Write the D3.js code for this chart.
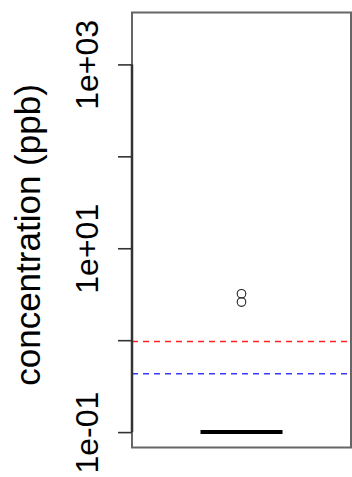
<!DOCTYPE html>
<html>
<head>
<meta charset="utf-8">
<script src="https://cdn.jsdelivr.net/npm/d3@7"></script>
<style>
  html, body { margin: 0; padding: 0; background: #fff; }
  svg { display: block; }
  text { font-family: "Liberation Sans", Arial, sans-serif; fill: #000; }
</style>
</head>
<body>
<svg id="chart" width="352" height="477"></svg>
<script>
// Box summary for the single group (all values at the reporting limit)
const groups = ["conc"];
const whiskerLow = [0.1];
const quartile1 = [0.1];
const medians = [0.1];
const quartile3 = [0.1];
const whiskerHigh = [0.1];
const outliers = [[3.2, 2.6]];

// Reference levels
const refValues = [0.97, 0.43];
const refColors = ["#ff2020", "#3a3aff"];

// Axis
const tickValues = [0.1, 1, 10, 100, 1000];
const tickLabels = ["1e-01", "", "1e+01", "", "1e+03"];
const yTitle = "concentration (ppb)";
const yDomain = [0.068, 3670];

const svg = d3.select("#chart");
const plot = { left: 132, right: 351, top: 12.5, bottom: 447.5 };

const y = d3.scaleLog().domain(yDomain).range([plot.bottom, plot.top]);
const x = d3.scaleBand().domain(groups).range([plot.left, plot.right]).paddingInner(0).paddingOuter(0);
const boxW = 82;

// Reference lines
svg.append("g").selectAll("line").data(refValues).join("line")
  .attr("x1", plot.left).attr("x2", plot.right)
  .attr("y1", d => y(d)).attr("y2", d => y(d))
  .attr("stroke", (d, i) => refColors[i])
  .attr("stroke-width", 1.5)
  .attr("stroke-dasharray", "6,5");

// Boxes
const g = svg.append("g").selectAll("g").data(groups).join("g");
g.each(function (d, i) {
  const cx = x(d) + x.bandwidth() / 2;
  const sel = d3.select(this);
  // box body
  sel.append("rect")
    .attr("x", cx - boxW / 2).attr("width", boxW)
    .attr("y", y(quartile3[i])).attr("height", y(quartile1[i]) - y(quartile3[i]))
    .attr("fill", "none").attr("stroke", "#000").attr("stroke-width", 1);
  // whiskers
  sel.append("line").attr("x1", cx).attr("x2", cx)
    .attr("y1", y(quartile3[i])).attr("y2", y(whiskerHigh[i]))
    .attr("stroke", "#000").attr("stroke-dasharray", "4,4");
  sel.append("line").attr("x1", cx).attr("x2", cx)
    .attr("y1", y(quartile1[i])).attr("y2", y(whiskerLow[i]))
    .attr("stroke", "#000").attr("stroke-dasharray", "4,4");
  // median
  sel.append("line")
    .attr("x1", cx - boxW / 2).attr("x2", cx + boxW / 2)
    .attr("y1", y(medians[i])).attr("y2", y(medians[i]))
    .attr("stroke", "#000").attr("stroke-width", 4);
  // outliers
  sel.selectAll("circle").data(outliers[i]).join("circle")
    .attr("cx", cx).attr("cy", v => y(v)).attr("r", 4.3)
    .attr("fill", "none").attr("stroke", "#222").attr("stroke-width", 1.1);
});

// Plot frame
svg.append("rect")
  .attr("x", plot.left).attr("y", plot.top)
  .attr("width", plot.right - plot.left).attr("height", plot.bottom - plot.top)
  .attr("fill", "none").attr("stroke", "#666").attr("stroke-width", 2);

// Y axis
const axis = d3.axisLeft(y)
  .tickValues(tickValues)
  .tickFormat((d, i) => tickLabels[i])
  .tickSizeInner(14).tickSizeOuter(0).tickPadding(34);
const ag = svg.append("g").attr("transform", `translate(${plot.left},0)`).call(axis);
ag.select(".domain")
  .attr("d", `M0,${y(tickValues[0])}V${y(tickValues[tickValues.length - 1])}`)
  .attr("stroke", "#333").attr("stroke-width", 2.5);
ag.selectAll(".tick line").attr("stroke", "#333").attr("stroke-width", 1.6);
ag.selectAll(".tick text")
  .attr("font-size", 32)
  .attr("font-family", "Liberation Sans, Arial, sans-serif")
  .attr("fill", "#000")
  .attr("x", null).attr("dy", null)
  .attr("text-anchor", "middle")
  .attr("transform", "translate(-34,0) rotate(-90)");

// Y title
svg.append("text")
  .attr("transform", `translate(40,${(plot.top + plot.bottom) / 2 + 5}) rotate(-90)`)
  .attr("text-anchor", "middle")
  .attr("font-size", 35)
  .text(yTitle);
</script>
</body>
</html>
